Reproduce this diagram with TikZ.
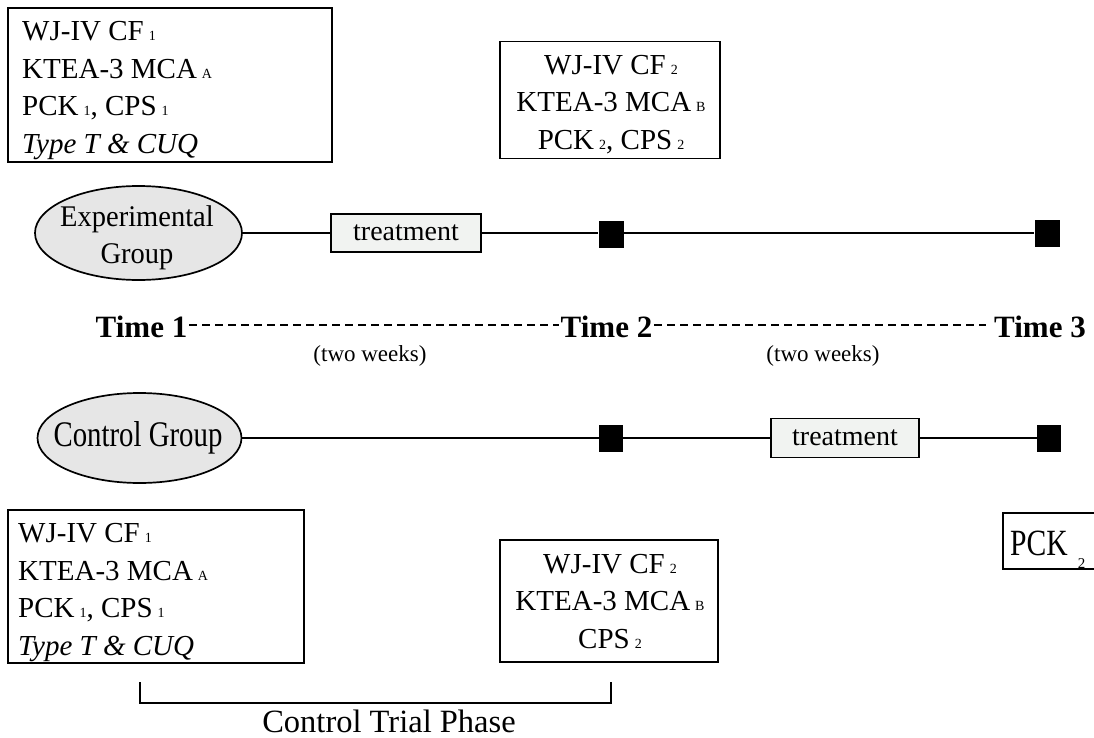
\documentclass[tikz,border=0pt]{standalone}
\usepackage{fontspec}
\usepackage{graphicx}
\setmainfont{Liberation Serif}
\usetikzlibrary{shapes.geometric}
\newcommand\idx[1]{\hspace{5pt}{\fontsize{14}{14}\selectfont #1}}
\definecolor{ellfill}{HTML}{E6E6E6}
\definecolor{trfill}{HTML}{F1F3F1}
\tikzset{
  line/.style={line width=1.8pt, draw=black},
  infobox/.style={draw, line width=1.7pt, inner sep=0pt},
  boxtext/.style={inner sep=0pt, font=\fontsize{29}{37.5}\selectfont},
  grp/.style={draw, ellipse, line width=1.7pt, fill=ellfill, inner sep=0pt},
  trbox/.style={draw, line width=1.7pt, fill=trfill, inner sep=0pt, font=\fontsize{28}{28}\selectfont},
  sq/.style={fill=black, draw=none, minimum width=25pt, minimum height=27pt, inner sep=0pt},
  timelbl/.style={font=\fontsize{31}{31}\selectfont\bfseries, inner sep=2pt},
  weeks/.style={font=\fontsize{23}{23}\selectfont},
  dashline/.style={line width=2.6pt, dash pattern=on 8pt off 5pt}
}
\begin{document}
\begin{tikzpicture}[x=1pt,y=-1pt]
\useasboundingbox (0,0) rectangle (1094,738);
\clip (0,0) rectangle (1094,738);
% top boxes
\node[infobox, minimum width=324pt, minimum height=154pt] (tl) at (170,85) {};
\node[boxtext, anchor=north west, align=left] (tlt) at (22,21.5)
 {WJ-IV CF\idx{1}\\KTEA-3 MCA\idx{A}\\PCK\idx{1}, CPS\idx{1}\\\textit{Type T \& CUQ}};
\node[infobox, minimum width=220pt, minimum height=117pt] (tm) at (610,100) {};
\node[boxtext, anchor=north, align=center] (tmt) at (611,55)
 {WJ-IV CF\idx{2}\\KTEA-3 MCA\idx{B}\\PCK\idx{2}, CPS\idx{2}};
% experimental row
\node[grp, minimum width=207pt, minimum height=94pt] (exp) at (138.5,233) {};
\node[inner sep=0pt, anchor=base, align=center, font=\fontsize{30}{37}\selectfont] (expt) at (137,263)
 {\scalebox{0.95}[1]{Experimental}\\\scalebox{0.95}[1]{Group}};
\node[trbox, minimum width=150pt, minimum height=38pt] (tr1) at (406,233) {treatment};
\node[sq] (s1) at (611,234) {};
\node[sq] (s2) at (1047,233) {};
\draw[line] (exp.east) -- (tr1.west);
\draw[line] (tr1.east) -- (s1.west|-tr1.east);
\draw[line] (s1.east|-tr1.east) -- (s2.west|-tr1.east);
% time row
\node[timelbl] (t1) at (141.5,327) {Time 1};
\node[timelbl] (t2) at (606.5,327) {Time 2};
\node[timelbl] (t3) at (1040,327) {Time 3};
\draw[dashline] ([yshift=2pt]t1.east) -- ([yshift=2pt]t2.west);
\draw[dashline] ([yshift=2pt]t2.east) -- ([yshift=2pt,xshift=-6pt]t3.west);
\node[weeks] (w1) at (370,356) {(two weeks)};
\node[weeks] (w2) at (823,356) {(two weeks)};
% control row
\node[grp, minimum width=204pt, minimum height=90pt] (ctl) at (139.5,438) {};
\node[inner sep=0pt, font=\fontsize{36}{36}\selectfont] (ctlt) at (138,438)
 {\scalebox{0.8}[1]{Control Group}};
\node[sq, minimum width=24pt] (s3) at (611,438) {};
\node[trbox, minimum width=148pt, minimum height=39pt] (tr2) at (845,438) {treatment};
\node[sq, minimum width=24pt] (s4) at (1049,438) {};
\draw[line] (ctl.east) -- (s3.west);
\draw[line] (s3.east) -- (tr2.west);
\draw[line] (tr2.east) -- (s4.west);
% bottom boxes
\node[infobox, minimum width=296pt, minimum height=153pt] (bl) at (156,586.5) {};
\node[boxtext, anchor=north west, align=left] (blt) at (18,523.5)
 {WJ-IV CF\idx{1}\\KTEA-3 MCA\idx{A}\\PCK\idx{1}, CPS\idx{1}\\\textit{Type T \& CUQ}};
\node[infobox, minimum width=218pt, minimum height=122pt] (bm) at (609,601) {};
\node[boxtext, anchor=north, align=center] (bmt) at (610,554)
 {WJ-IV CF\idx{2}\\KTEA-3 MCA\idx{B}\\CPS\idx{2}};
\node[infobox, minimum width=110pt, minimum height=56pt, anchor=north west] (pck) at (1002,512) {};
\node[inner sep=0pt, anchor=base west, font=\fontsize{37}{37}\selectfont] (pckt) at (1010,555)
 {\scalebox{0.8}[1]{PCK}\hspace{10pt}\raisebox{-13pt}{\fontsize{15}{15}\selectfont 2}};
% bracket
\coordinate (b1) at (140,682);
\coordinate (b2) at (140,703);
\coordinate (b3) at (611,703);
\coordinate (b4) at (611,682);
\draw[line, line width=1.5pt] (b1) -- (b2) -- (b3) -- (b4);
\node[inner sep=0pt, anchor=base, font=\fontsize{32.5}{32.5}\selectfont] (ctp) at (389,732) {Control Trial Phase};
\end{tikzpicture}
\end{document}
